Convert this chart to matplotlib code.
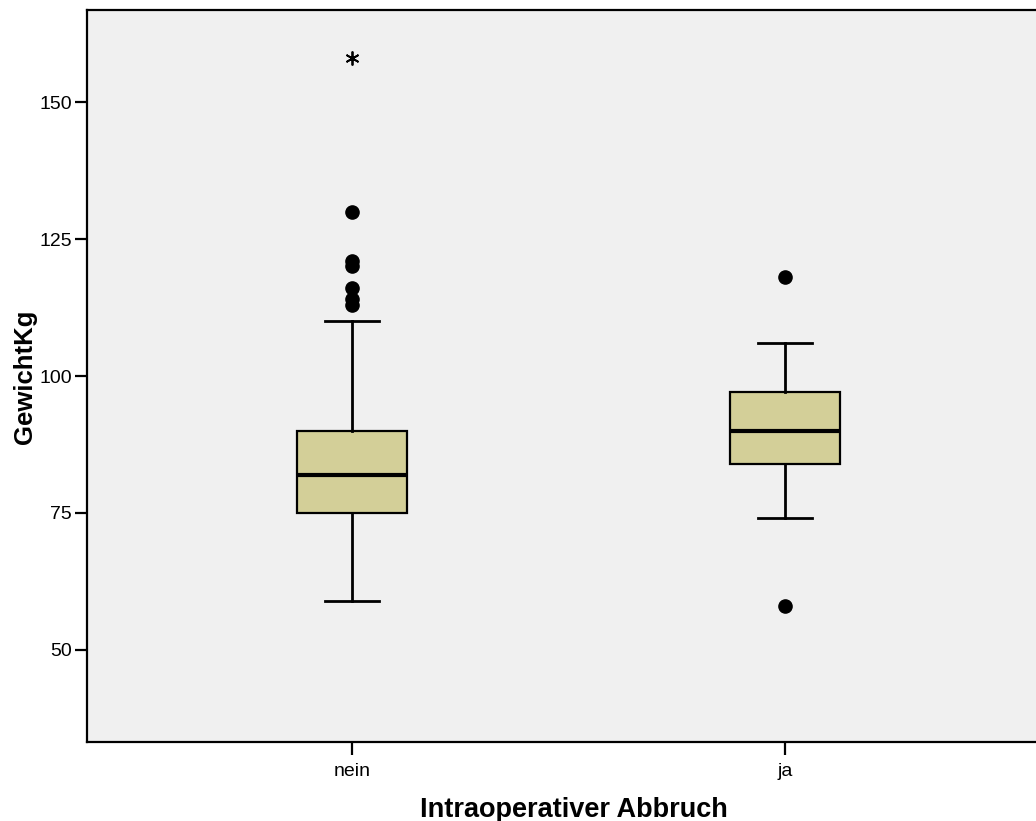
import matplotlib

matplotlib.use('Agg')
import matplotlib.pyplot as plt

plt.rcParams['font.family'] = ['Liberation Sans', 'DejaVu Sans']

# Weight (kg) by intraoperative abort
groups = ['nein', 'ja']
q1 = [75, 84]
medians = [82, 90]
q3 = [90, 97]
whisker_low = [59, 74]
whisker_high = [110, 106]
outliers = [[113, 114, 116, 120, 121, 130], [58, 118]]
extremes = [[158], []]

BOX_COLOR = '#d3cf98'
BG_COLOR = '#f0f0f0'

stats = []
for i, name in enumerate(groups):
    stats.append({
        'label': name,
        'q1': q1[i], 'med': medians[i], 'q3': q3[i],
        'whislo': whisker_low[i], 'whishi': whisker_high[i],
        'fliers': outliers[i],
    })

fig = plt.figure(figsize=(10.36, 8.21), dpi=100)
ax = fig.add_axes([87 / 1036, 79 / 821, 949 / 1036, 732 / 821])
ax.set_facecolor(BG_COLOR)

positions = [1, 2]
ax.bxp(stats, positions=positions, widths=0.252, patch_artist=True,
       boxprops=dict(facecolor=BOX_COLOR, edgecolor='black', linewidth=1.6),
       medianprops=dict(color='black', linewidth=3),
       whiskerprops=dict(color='black', linewidth=2),
       capprops=dict(color='black', linewidth=2),
       capwidths=0.127,
       flierprops=dict(marker='o', markersize=9.5, markerfacecolor='black',
                       markeredgecolor='black'))

# extreme values drawn as asterisks
for pos, vals in zip(positions, extremes):
    if vals:
        ax.plot([pos] * len(vals), vals, linestyle='none', marker=(6, 2, 0),
                markersize=10, markeredgewidth=1.3, color='black')

# x range: 433 px per category step, plot area runs to the figure edge
ax.set_xlim(1 - 265 / 433, 2 + (1036 - 785) / 433)
ax.set_ylim(33.2, 166.8)
ax.set_xticks(positions)
ax.set_xticklabels(groups)
ax.set_yticks([50, 75, 100, 125, 150])

for side in ['left', 'bottom', 'top']:
    ax.spines[side].set_linewidth(1.6)
ax.spines['right'].set_visible(False)

ax.tick_params(axis='both', labelsize=14, length=9, width=1.6, direction='out')
ax.tick_params(axis='y', pad=2)
ax.tick_params(axis='x', pad=6)

ax.set_ylabel('GewichtKg', fontsize=18.5, fontweight='bold')
ax.set_xlabel('Intraoperativer Abbruch', fontsize=19.5, fontweight='bold')
ax.yaxis.set_label_coords(-0.0527, 0.499)
ax.xaxis.set_label_coords(0.513, -0.075)

fig.savefig('out.png', dpi=100, facecolor='white')
